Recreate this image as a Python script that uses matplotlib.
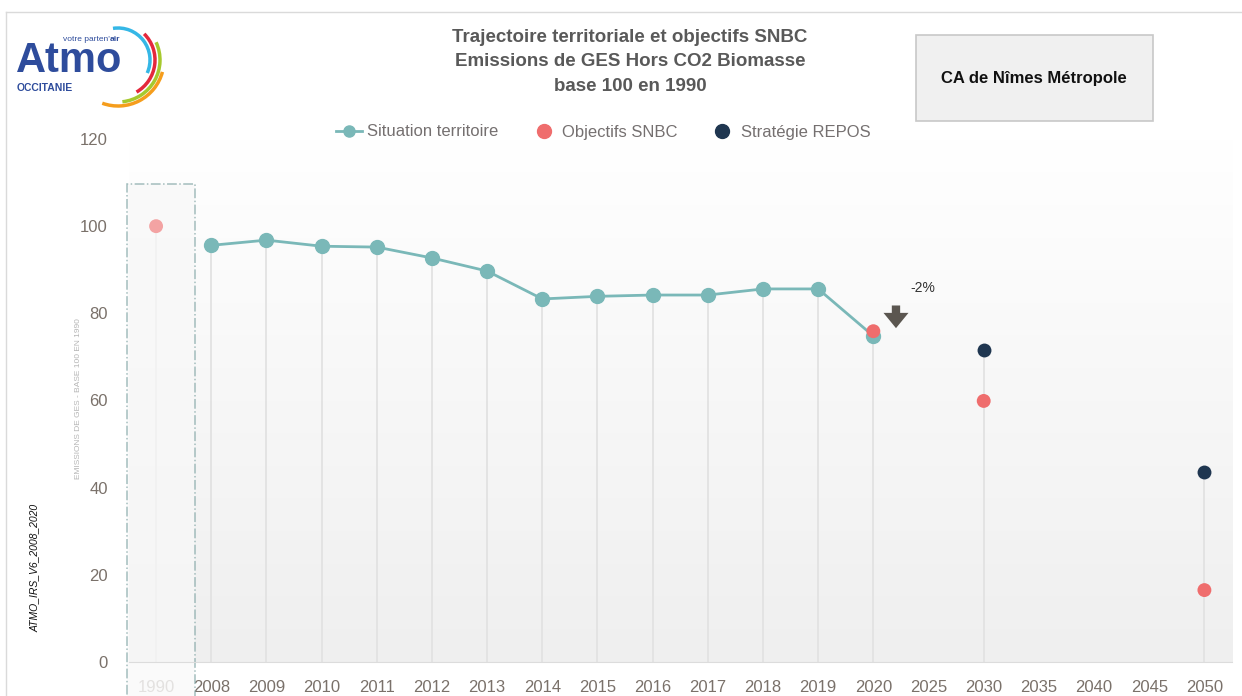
import numpy as np
import matplotlib
matplotlib.use("Agg")
import matplotlib.pyplot as plt
from matplotlib.patches import Rectangle, Arc
from matplotlib.lines import Line2D
from matplotlib.colors import LinearSegmentedColormap

plt.rcParams['font.family'] = ['Liberation Sans', 'DejaVu Sans']

# --- data ---
categories = ['1990', '2008', '2009', '2010', '2011', '2012', '2013', '2014', '2015',
              '2016', '2017', '2018', '2019', '2020', '2025', '2030', '2035', '2040',
              '2045', '2050']
situation_years = ['2008', '2009', '2010', '2011', '2012', '2013', '2014', '2015',
                   '2016', '2017', '2018', '2019', '2020']
situation_values = [95.6, 96.8, 95.4, 95.2, 92.7, 89.7, 83.3, 83.9, 84.2, 84.2, 85.6, 85.6, 74.8]
snbc_years = ['1990', '2020', '2030', '2050']
snbc_values = [100, 75.9, 59.9, 16.5]
repos_years = ['2030', '2050']
repos_values = [71.6, 43.6]
yticks = [0, 20, 40, 60, 80, 100, 120]

teal = '#7ab8b8'
pink = '#ef6d6d'
navy = '#1f3650'
tick_col = '#7a716a'

W, H = 1242, 696
fig = plt.figure(figsize=(W / 100, H / 100), dpi=100)

def fx(px):
    return px / W

def fy(py):
    return 1 - py / H

ax = fig.add_axes([fx(128.5), fy(662), fx(1232) - fx(128.5), fy(139) - fy(662)])
ax.set_xlim(-0.5, 19.5)
ax.set_ylim(0, 120)

# background gradient
grad = np.linspace(0, 1, 256).reshape(-1, 1)
cmap = LinearSegmentedColormap.from_list('bg', ['#efefef', '#ffffff'])
ax.imshow(grad, extent=[-0.5, 19.5, 0, 120], origin='lower', aspect='auto',
          cmap=cmap, zorder=0)

pos = {c: i for i, c in enumerate(categories)}
xs_sit = [pos[y] for y in situation_years]
xs_snbc = [pos[y] for y in snbc_years]
xs_rep = [pos[y] for y in repos_years]

# drop lines
tops = {}
for xs, vs in [(xs_sit, situation_values), (xs_snbc, snbc_values), (xs_rep, repos_values)]:
    for x, v in zip(xs, vs):
        tops[x] = max(tops.get(x, 0), v)
for x, v in tops.items():
    ax.plot([x, x], [0, v], color='#e2e2e2', lw=1.3, zorder=1)

# 1990 highlight box
ax.add_patch(Rectangle((-0.52, -8), 1.23, 117.6, facecolor='#f8f8f8', alpha=0.7,
                       edgecolor='#7fa3a3', linestyle='-.', lw=1.1, clip_on=False, zorder=2))

ax.plot(xs_sit, situation_values, color=teal, lw=2, marker='o', ms=10, zorder=4)
snbc_cols = ['#f3a3a3' if y == '1990' else pink for y in snbc_years]
ax.scatter(xs_snbc, snbc_values, color=snbc_cols, s=100, zorder=5, linewidths=0)
ax.scatter(xs_rep, repos_values, color=navy, s=100, zorder=5, linewidths=0)

# arrow and label
ax.annotate('', xy=(13.41, 76.6), xytext=(13.41, 81.8),
            arrowprops=dict(arrowstyle='simple,head_length=0.55,head_width=0.9,tail_width=0.3',
                            mutation_scale=20, color='#5b5650', lw=0,
                            shrinkA=0, shrinkB=0), zorder=6)
ax.text(13.9, 85.8, '-2%', fontsize=10, color='#333333', ha='center', va='center')

# axes styling
for s in ['top', 'right', 'left']:
    ax.spines[s].set_visible(False)
ax.spines['bottom'].set_color('#dcdcdc')
ax.set_xticks(range(len(categories)))
ax.set_xticklabels(categories)
ax.set_yticks(yticks)
ax.tick_params(axis='both', length=0, labelsize=12, labelcolor=tick_col)
ax.tick_params(axis='x', pad=13)
ax.tick_params(axis='y', pad=15)
ax.get_xticklabels()[0].set_color('#b3ada8')

# y labels
fig.text(fx(78), fy(399), 'EMISSIONS DE GES - BASE 100 EN 1990', rotation=90, fontsize=6,
         color='#b5b5b5', ha='center', va='center')
fig.text(fx(35), fy(568), 'ATMO_IRS_V6_2008_2020', rotation=90, fontsize=7.5,
         style='italic', color='#111111', ha='center', va='center')

# title
title = 'Trajectoire territoriale et objectifs SNBC\nEmissions de GES Hors CO2 Biomasse\nbase 100 en 1990'
fig.text(fx(630), fy(62), title, ha='center', va='center', fontsize=13.5, fontweight='bold',
         color='#595959', linespacing=1.55)

# legend
handles = [Line2D([], [], color=teal, lw=2, marker='o', ms=8),
           Line2D([], [], color=pink, lw=0, marker='o', ms=10),
           Line2D([], [], color=navy, lw=0, marker='o', ms=10)]
fig.legend(handles, ['Situation territoire', 'Objectifs SNBC', 'Stratégie REPOS'],
           loc='center', bbox_to_anchor=(fx(603), fy(132)), ncol=3, frameon=False,
           fontsize=12, labelcolor='#757070', handlelength=1.6, handletextpad=0.3,
           columnspacing=1.9)

# territory box
fig.patches.append(Rectangle((fx(916), fy(121)), fx(1153) - fx(916), fy(35) - fy(121),
                             transform=fig.transFigure, facecolor='#f0f0f0',
                             edgecolor='#c8c8c8', lw=1.2))
fig.text(fx(1034), fy(79), 'CA de Nîmes Métropole', ha='center', va='center', fontsize=12,
         fontweight='bold', color='#111111')

# outer frame
fig.lines.append(Line2D([fx(6), 1], [fy(12), fy(12)], transform=fig.transFigure,
                        color='#dadada', lw=1))
fig.lines.append(Line2D([fx(6), fx(6)], [0, fy(12)], transform=fig.transFigure,
                        color='#dadada', lw=1))

# logo
lax = fig.add_axes([0, fy(110), fx(170), fy(0) - fy(110)])
lax.set_xlim(0, 170)
lax.set_ylim(110, 0)
lax.axis('off')
blue = '#2e4c9c'
lax.text(16, 72, 'Atmo', fontsize=30, fontweight='bold', color=blue, va='baseline')
lax.text(63, 41, "votre parten'", fontsize=6, color=blue, va='baseline')
lax.text(109.5, 41, 'air', fontsize=6, color=blue, fontweight='bold', va='baseline')
lax.text(17, 91, 'OCCITANIE', fontsize=7.5, fontweight='bold', color=blue, va='baseline')
# arcs (y axis inverted, so angles are mirrored)
for r, a1, a2, col in [(32, -99, 24, '#35b7e6'), (37, -45, 60, '#e4283c'),
                       (42, -25, 84, '#a6c92e'), (46, 15, 110, '#f59d1c')]:
    lax.add_patch(Arc((118, 60), 2 * r, 2 * r, theta1=a1, theta2=a2, color=col, lw=2.5))

fig.savefig('out.png', dpi=100)
